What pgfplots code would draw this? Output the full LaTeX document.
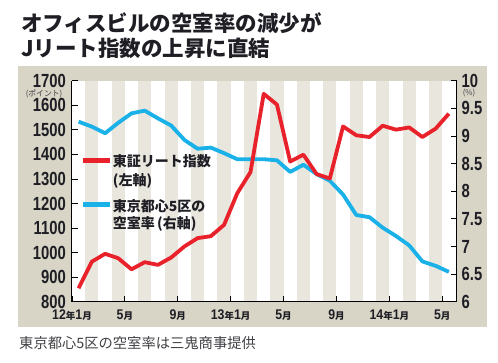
\documentclass[border=0pt]{standalone}
\usepackage{pgfplots}
\pgfplotsset{compat=1.18}
\usepackage{fontspec}
\newfontfamily\cjk{Noto Sans CJK JP}
\newfontfamily\numf{Liberation Sans}[FakeStretch=0.78]
\newfontfamily\numfx{Liberation Sans}[FakeStretch=0.88]
\definecolor{frame}{RGB}{216,212,198}
\definecolor{stripe}{RGB}{233,230,221}
\definecolor{reitred}{RGB}{232,33,43}
\definecolor{vacblue}{RGB}{26,176,232}
\definecolor{ink}{RGB}{30,30,36}
\newcommand{\nm}[1]{{\numfx\bfseries\fontsize{14}{14}\selectfont #1}}
\newcommand{\jk}[1]{{\cjk\bfseries\fontsize{9.5}{9.5}\selectfont #1}}

\pgfplotstableread{
x y
0.5 855
1.5 963
2.5 995
3.5 977
4.5 932
5.5 961
6.5 950
7.5 980
8.5 1025
9.5 1059
10.5 1067
11.5 1113
12.5 1242
13.5 1328
14.5 1647
15.5 1603
16.5 1371
17.5 1399
18.5 1320
19.5 1302
20.5 1514
21.5 1478
22.5 1471
23.5 1517
24.5 1501
25.5 1510
26.5 1471
27.5 1505
28.5 1566
}\reit

\pgfplotstableread{
x y
0.5 9.26
1.5 9.17
2.5 9.05
3.5 9.24
4.5 9.41
5.5 9.46
6.5 9.32
7.5 9.19
8.5 8.93
9.5 8.77
10.5 8.79
11.5 8.69
12.5 8.58
13.5 8.58
14.5 8.58
15.5 8.56
16.5 8.35
17.5 8.48
18.5 8.31
19.5 8.19
20.5 7.94
21.5 7.57
22.5 7.53
23.5 7.34
24.5 7.19
25.5 7.02
26.5 6.73
27.5 6.65
28.5 6.54
}\vacancy

\begin{document}
\begin{tikzpicture}[x=1pt,y=1pt]
\useasboundingbox (0,0) rectangle (498,362);
\fill[frame] (18,35) rectangle (487,296);
\fill[white] (72,60.3) rectangle (456.5,281.2);

\pgfplotsset{
  base/.style={
    at={(72pt,60.3pt)}, anchor=south west,
    scale only axis, width=384.5pt, height=220.9pt,
    xmin=0, xmax=29.08,
    clip=true,
  },
}

\begin{axis}[base,
  ymin=800, ymax=1700,
  axis on top,
  axis y line*=left, axis x line*=bottom,
  axis line style={black, line width=1pt},
  tick style={black, line width=0.8pt},
  major tick length=5.5pt,
  xtick={0,4,8,12,16,20,24,28},
  xticklabels={\nm{12}\jk{年}\nm{1}\jk{月},\nm{5}\jk{月},\nm{9}\jk{月},\nm{13}\jk{年}\nm{1}\jk{月},\nm{5}\jk{月},\nm{9}\jk{月},\nm{14}\jk{年}\nm{1}\jk{月},\nm{5}\jk{月}},
  xticklabel style={anchor=north, inner sep=0pt, yshift=-8pt, text=ink},
  ytick={800,900,1000,1100,1200,1300,1400,1500,1600,1700},
  yticklabels={800,900,1000,1100,1200,1300,1400,1500,1600,1700},
  yticklabel style={anchor=east, inner sep=0pt, xshift=-6pt, text=ink,
    font=\numf\bfseries\fontsize{19}{19}\selectfont},
]
\pgfplotsforeachungrouped \i in {1,3,...,27}{%
  \pgfmathtruncatemacro\j{\i+1}%
  \edef\temp{\noexpand\fill[stripe] (axis cs:\i,800) rectangle (axis cs:\j,1700);}%
  \temp
}
\end{axis}

\begin{axis}[base,
  ymin=6, ymax=10,
  axis y line*=right, axis x line=none,
  axis line style={black, line width=1pt},
  tick style={black, line width=0.8pt},
  major tick length=5.5pt,
  ytick={6,6.5,7,7.5,8,8.5,9,9.5,10},
  yticklabels={6,6.5,7,7.5,8,8.5,9,9.5,10},
  yticklabel style={anchor=west, inner sep=0pt, xshift=5pt, text=ink,
    font=\numf\bfseries\fontsize{19}{19}\selectfont},
]
\addplot[vacblue, line width=3.8pt, line join=round] table[x=x,y=y] {\vacancy};
\end{axis}

\begin{axis}[base, ymin=800, ymax=1700, hide axis]
\addplot[reitred, line width=3.8pt, line join=round] table[x=x,y=y] {\reit};
\end{axis}

% legend
\fill[reitred] (83.3,199.3) rectangle (110,204.3);
\fill[vacblue] (83.3,155.3) rectangle (110,160.3);
\begin{scope}[every node/.style={anchor=west, inner sep=0pt, text=ink,
    font=\cjk\bfseries\fontsize{14}{14}\selectfont}]
\node at (112.7,200.3) {東証リート指数};
\node at (112.7,181) {(左軸)};
\node at (112.7,156) {東京都心5区の};
\node at (112.7,137.7) {空室率\,(右軸)};
\end{scope}

% unit labels
\node[inner sep=0pt, text=ink!85, font=\cjk\fontsize{7.8}{7.8}\selectfont] at (44,268.5) {(ポイント)};
\node[inner sep=0pt, text=ink!85, font=\cjk\fontsize{7.8}{7.8}\selectfont] at (469,268.5) {(\%)};

% title
\node[anchor=west, inner sep=0pt, text=ink, font=\cjk\bfseries\fontsize{21.5}{21.5}\selectfont] at (21,339) {オフィスビルの空室率の減少が};
\node[anchor=west, inner sep=0pt, text=ink, font=\cjk\bfseries\fontsize{21.5}{21.5}\selectfont] at (21,314) {Jリート指数の上昇に直結};

% footer
\node[anchor=west, inner sep=0pt, text=ink!85, font=\cjk\fontsize{14.3}{14.3}\selectfont] at (19,19) {東京都心5区の空室率は三鬼商事提供};
\end{tikzpicture}
\end{document}
